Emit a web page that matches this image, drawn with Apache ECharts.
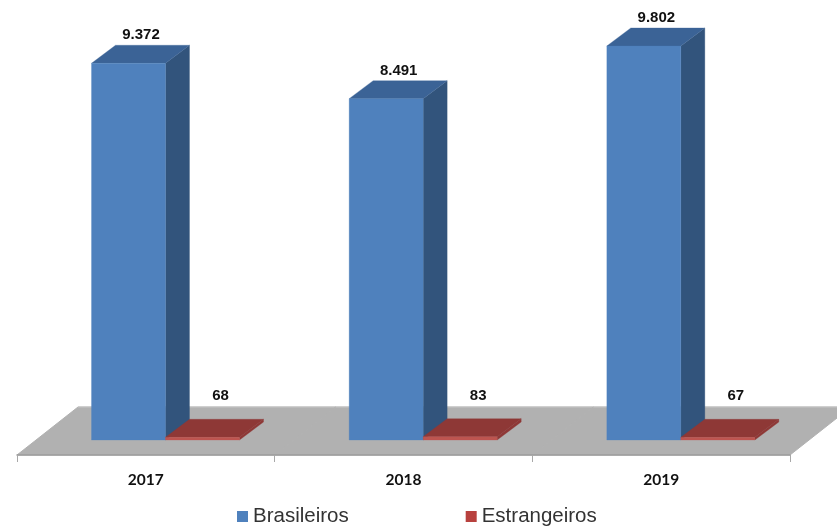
<!DOCTYPE html>
<html>
<head>
<meta charset="utf-8">
<style>html,body{margin:0;padding:0;background:#fff}#c{width:837px;height:528px}</style>
<script src="https://cdn.jsdelivr.net/npm/echarts@6/dist/echarts.min.js"></script>
</head>
<body>
<div id="c"></div>
<script>
const categories = ['2017', '2018', '2019'];
const brasileiros = [9372, 8491, 9802];
const estrangeiros = [68, 83, 67];

const fmt = v => String(v).replace(/\B(?=(\d{3})+$)/g, '.');
const DX = 24, DY = -18, BAR = 74, FLOOR_DX = 61, FLOOR_DY = -48, FLOOR_DROP = 15;

function prism(colors, barOffset, labelDX, labelDY) {
  return function (params, api) {
    const cat = api.value(0), val = api.value(1);
    const base = api.coord([cat, 0]), top = api.coord([cat, val]);
    const band = api.size([1, 0])[0];
    const x0 = base[0] - band / 2 + barOffset, x1 = x0 + BAR;
    const y0 = base[1], y1 = top[1];
    const poly = (pts, fill) => ({ type: 'polygon', shape: { points: pts }, style: { fill: fill, stroke: fill, lineWidth: 0.3 } });
    return {
      type: 'group',
      children: [
        poly([[x1, y0], [x1 + DX, y0 + DY], [x1 + DX, y1 + DY], [x1, y1]], colors[2]),
        poly([[x0, y1], [x1, y1], [x1 + DX, y1 + DY], [x0 + DX, y1 + DY]], colors[1]),
        poly([[x0, y0], [x1, y0], [x1, y1], [x0, y1]], colors[0]),
        {
          type: 'text',
          style: {
            x: (x0 + x1) / 2 + labelDX, y: y1 + labelDY,
            text: fmt(val), fill: '#111',
            font: 'bold 15px "Liberation Sans"', align: 'center', verticalAlign: 'middle'
          }
        }
      ]
    };
  };
}

function floorPanel(params, api) {
  const cat = api.value(0);
  const base = api.coord([cat, 0]);
  const band = api.size([1, 0])[0];
  const y = base[1] + FLOOR_DROP, l = base[0] - band / 2, r = l + band;
  return {
    type: 'group',
    children: [
      { type: 'polygon', shape: { points: [[l, y], [r, y], [r + FLOOR_DX, y + FLOOR_DY], [l + FLOOR_DX, y + FLOOR_DY]] },
        style: { fill: '#b1b1b1', stroke: '#b1b1b1', lineWidth: 1 } },
      { type: 'line', shape: { x1: l + FLOOR_DX, y1: y + FLOOR_DY, x2: r + FLOOR_DX, y2: y + FLOOR_DY },
        style: { stroke: '#c6c6c6', lineWidth: 1 } }
    ]
  };
}

const chart = echarts.init(document.getElementById('c'), null, { renderer: 'canvas' });
chart.setOption({
  animation: false,
  backgroundColor: '#fff',
  grid: { left: 17, right: 47, top: 38, bottom: 88, containLabel: false },
  xAxis: {
    type: 'category', data: categories, offset: 15, z: 5,
    axisLine: { onZero: false, lineStyle: { color: '#9c9c9c', width: 1.5 } },
    axisTick: { show: true, length: 7, lineStyle: { color: '#a8a8a8' } },
    axisLabel: { color: '#111', fontFamily: 'Lato', fontWeight: 'bold', fontSize: 15.5, margin: 17 },
    splitLine: { show: false }
  },
  yAxis: { type: 'value', min: 0, max: 10000, show: false, splitLine: { show: false } },
  legend: {
    data: ['Brasileiros', 'Estrangeiros'], left: 232, top: 501,
    icon: 'rect', itemWidth: 11, itemHeight: 11, itemGap: 117,
    textStyle: { fontFamily: 'Liberation Sans', fontSize: 20.5, color: '#333' },
    selectedMode: false
  },
  series: [
    { type: 'custom', name: 'floor', silent: true, z: 1, renderItem: floorPanel,
      data: categories.map((c, i) => [i, 0]), encode: { x: 0, y: 1 } },
    { type: 'custom', name: 'Brasileiros', z: 2, itemStyle: { color: '#4f81bd' },
      renderItem: prism(['#4f81bd', '#3b6396', '#32547c'], 74.5, 12.5, -28),
      data: brasileiros.map((v, i) => [i, v]), encode: { x: 0, y: 1 } },
    { type: 'custom', name: 'Estrangeiros', z: 3, itemStyle: { color: '#b8413e' },
      renderItem: prism(['#bd5550', '#8e3836', '#8e3836'], 148.5, 18, -41),
      data: estrangeiros.map((v, i) => [i, v]), encode: { x: 0, y: 1 } }
  ]
});
</script>
</body>
</html>
